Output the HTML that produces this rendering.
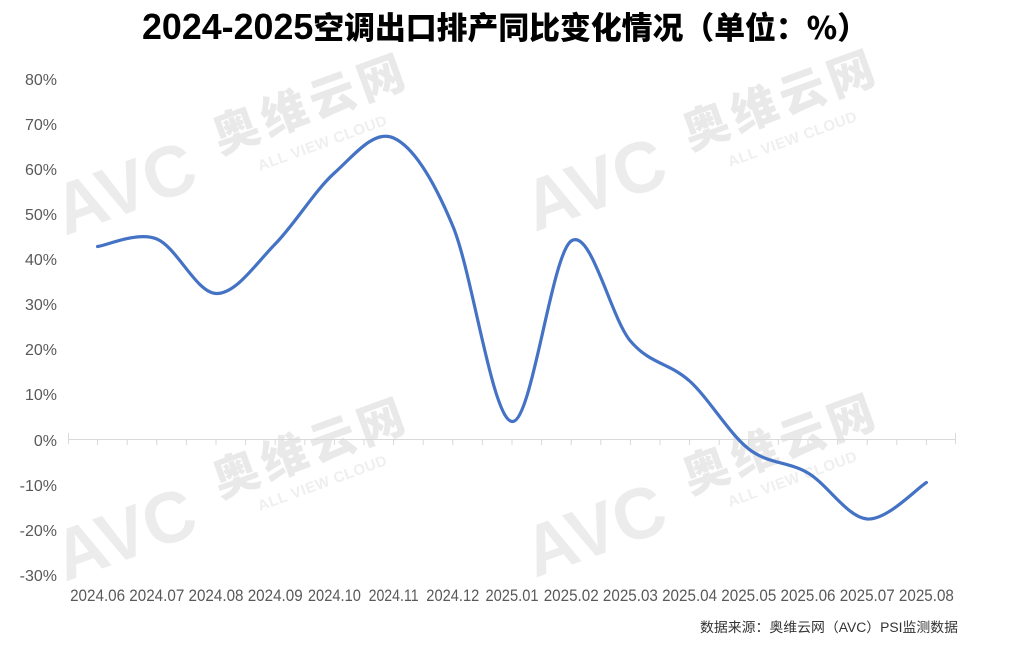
<!DOCTYPE html>
<html>
<head>
<meta charset="utf-8">
<style>
html,body{margin:0;padding:0;background:#fff;}
svg{display:block;}
</style>
</head>
<body>
<svg width="1024" height="645" viewBox="0 0 1024 645" xmlns="http://www.w3.org/2000/svg">
<rect width="1024" height="645" fill="#ffffff"/>

<!-- Watermarks -->
<g font-family="Liberation Sans, 'Noto Sans CJK SC', sans-serif" font-weight="bold">
  <!-- top-right -->
  <text x="535" y="232" font-size="72" fill="#ececec" transform="rotate(-20 535 232)" textLength="145" lengthAdjust="spacingAndGlyphs">AVC</text>
  <text x="690" y="150" font-size="46" fill="#e9e9e9" transform="rotate(-20 690 150)" textLength="200" lengthAdjust="spacing" font-family="'Noto Sans CJK SC', sans-serif" font-weight="900">奥维云网</text>
  <text x="730" y="167" font-size="15" fill="#efefef" transform="rotate(-20 730 167)" textLength="136" lengthAdjust="spacing">ALL VIEW CLOUD</text>
  <!-- top-left -->
  <text x="65" y="236" font-size="72" fill="#ececec" transform="rotate(-20 65 236)" textLength="145" lengthAdjust="spacingAndGlyphs">AVC</text>
  <text x="220" y="154" font-size="46" fill="#e9e9e9" transform="rotate(-20 220 154)" textLength="200" lengthAdjust="spacing" font-family="'Noto Sans CJK SC', sans-serif" font-weight="900">奥维云网</text>
  <text x="260" y="171" font-size="15" fill="#efefef" transform="rotate(-20 260 171)" textLength="136" lengthAdjust="spacing">ALL VIEW CLOUD</text>
  <!-- bottom-right -->
  <text x="535" y="578" font-size="72" fill="#ececec" transform="rotate(-20 535 578)" textLength="145" lengthAdjust="spacingAndGlyphs">AVC</text>
  <text x="690" y="494" font-size="46" fill="#e9e9e9" transform="rotate(-20 690 494)" textLength="200" lengthAdjust="spacing" font-family="'Noto Sans CJK SC', sans-serif" font-weight="900">奥维云网</text>
  <text x="730" y="507" font-size="15" fill="#efefef" transform="rotate(-20 730 507)" textLength="136" lengthAdjust="spacing">ALL VIEW CLOUD</text>
  <!-- bottom-left -->
  <text x="65" y="582" font-size="72" fill="#ececec" transform="rotate(-20 65 582)" textLength="145" lengthAdjust="spacingAndGlyphs">AVC</text>
  <text x="220" y="498" font-size="46" fill="#e9e9e9" transform="rotate(-20 220 498)" textLength="200" lengthAdjust="spacing" font-family="'Noto Sans CJK SC', sans-serif" font-weight="900">奥维云网</text>
  <text x="260" y="511" font-size="15" fill="#efefef" transform="rotate(-20 260 511)" textLength="136" lengthAdjust="spacing">ALL VIEW CLOUD</text>
</g>

<!-- Title -->
<text x="142" y="39" textLength="726" lengthAdjust="spacingAndGlyphs" font-family="Liberation Sans, 'Noto Sans CJK SC', sans-serif" font-weight="bold" fill="#000"><tspan font-size="36">2024-2025</tspan><tspan font-size="31" font-family="'Noto Sans CJK SC', sans-serif" font-weight="900">空调出口排产同比变化情况（单位：%）</tspan></text>

<!-- Y axis labels -->
<g font-family="Liberation Sans, sans-serif" font-size="16" fill="#595959" text-anchor="end">
  <text x="57" y="85">80%</text>
  <text x="57" y="130">70%</text>
  <text x="57" y="175">60%</text>
  <text x="57" y="220">50%</text>
  <text x="57" y="265">40%</text>
  <text x="57" y="310">30%</text>
  <text x="57" y="355">20%</text>
  <text x="57" y="400">10%</text>
  <text x="57" y="446">0%</text>
  <text x="57" y="491">-10%</text>
  <text x="57" y="536">-20%</text>
  <text x="57" y="581">-30%</text>
</g>

<!-- X axis line and ticks -->
<g stroke="#d9d9d9" stroke-width="1" fill="none">
  <line x1="68" y1="439.5" x2="956" y2="439.5"/>
  <line x1="68.5" y1="433" x2="68.5" y2="444"/>
  <line x1="955.5" y1="433" x2="955.5" y2="444"/>
  <path d="M97.6 440v5M127.2 440v5M156.8 440v5M186.4 440v5M216 440v5M245.6 440v5M275.2 440v5M304.8 440v5M334.4 440v5M364 440v5M393.6 440v5M423.2 440v5M452.8 440v5M482.4 440v5M512 440v5M541.6 440v5M571.2 440v5M600.8 440v5M630.4 440v5M660 440v5M689.6 440v5M719.2 440v5M748.8 440v5M778.4 440v5M808 440v5M837.6 440v5M867.2 440v5M896.8 440v5M926.4 440v5"/>
</g>

<!-- X axis labels -->
<g font-family="Liberation Sans, sans-serif" font-size="17" fill="#595959" text-anchor="middle">
  <text x="97.6" y="601" textLength="55" lengthAdjust="spacingAndGlyphs">2024.06</text>
  <text x="156.8" y="601" textLength="55" lengthAdjust="spacingAndGlyphs">2024.07</text>
  <text x="216" y="601" textLength="55" lengthAdjust="spacingAndGlyphs">2024.08</text>
  <text x="275.2" y="601" textLength="55" lengthAdjust="spacingAndGlyphs">2024.09</text>
  <text x="334.4" y="601" textLength="53" lengthAdjust="spacingAndGlyphs">2024.10</text>
  <text x="393.6" y="601" textLength="50" lengthAdjust="spacingAndGlyphs">2024.11</text>
  <text x="452.8" y="601" textLength="53" lengthAdjust="spacingAndGlyphs">2024.12</text>
  <text x="512" y="601" textLength="53" lengthAdjust="spacingAndGlyphs">2025.01</text>
  <text x="571.2" y="601" textLength="55" lengthAdjust="spacingAndGlyphs">2025.02</text>
  <text x="630.4" y="601" textLength="55" lengthAdjust="spacingAndGlyphs">2025.03</text>
  <text x="689.6" y="601" textLength="55" lengthAdjust="spacingAndGlyphs">2025.04</text>
  <text x="748.8" y="601" textLength="55" lengthAdjust="spacingAndGlyphs">2025.05</text>
  <text x="808" y="601" textLength="55" lengthAdjust="spacingAndGlyphs">2025.06</text>
  <text x="867.2" y="601" textLength="55" lengthAdjust="spacingAndGlyphs">2025.07</text>
  <text x="926.4" y="601" textLength="55" lengthAdjust="spacingAndGlyphs">2025.08</text>
</g>

<!-- Data line -->
<path fill="none" stroke="#4472C4" stroke-width="3.2" stroke-linecap="round" stroke-linejoin="round"
d="M97.6 246.5
C107.47 245.25 137.07 231.17 156.8 239
C176.53 246.83 196.27 292.67 216 293.5
C235.73 294.33 255.47 264.08 275.2 244
C294.93 223.92 314.67 190.67 334.4 173
C354.13 155.33 373.87 129.17 393.6 138
C413.33 146.83 433.07 178.75 452.8 226
C472.53 273.25 492.27 419 512 421.5
C531.73 424 551.47 254.42 571.2 241
C590.93 227.58 610.67 317.67 630.4 341
C650.13 364.33 669.87 363 689.6 381
C709.33 399 729.07 433.67 748.8 449
C768.53 464.33 788.27 461.33 808 473
C827.73 484.67 847.47 517.42 867.2 519
C886.93 520.58 916.53 488.58 926.4 482.5"/>

<!-- Source note -->
<text x="958" y="632" text-anchor="end" font-family="Liberation Sans, 'Noto Sans CJK SC', sans-serif" font-size="13.5" fill="#333333" textLength="258" lengthAdjust="spacingAndGlyphs">数据来源：奥维云网（AVC）PSI监测数据</text>
</svg>
</body>
</html>
